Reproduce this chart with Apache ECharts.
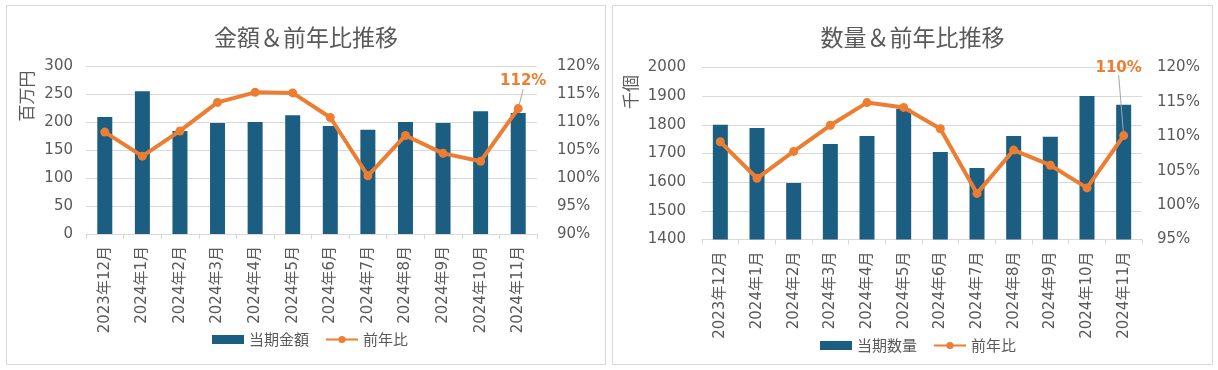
<!DOCTYPE html>
<html>
<head>
<meta charset="utf-8">
<script src="https://cdn.jsdelivr.net/npm/echarts@6/dist/echarts.min.js"></script>
<style>
  html, body { margin: 0; padding: 0; background: #ffffff; }
  .panel { position: absolute; border: 1px solid #d9d9d9; box-sizing: content-box; background: #fff; }
  #p1 { left: 6px; top: 5px; width: 598px; height: 358px; }
  #p2 { left: 612px; top: 5px; width: 599px; height: 358px; }
</style>
</head>
<body>
<div id="p1" class="panel"></div>
<div id="p2" class="panel"></div>
<script>
// ---- data ----
const months = ['2023年12月','2024年1月','2024年2月','2024年3月','2024年4月','2024年5月','2024年6月','2024年7月','2024年8月','2024年9月','2024年10月','2024年11月'];
const amountValues = [209, 255, 184, 198, 200, 212, 193, 186, 200, 198, 219, 216];
const amountYoY = [108.2, 103.9, 108.4, 113.5, 115.3, 115.2, 110.8, 100.4, 107.6, 104.4, 103.0, 112.4];
const qtyValues = [1800, 1789, 1597, 1733, 1761, 1856, 1705, 1649, 1761, 1758, 1901, 1870];
const qtyYoY = [109.2, 103.9, 107.8, 111.6, 114.9, 114.2, 111.1, 101.7, 108.0, 105.8, 102.5, 110.1];

const BAR = '#1B5E82';
const ORANGE = '#ED7D31';
const TXT = '#595959';
const GRID = '#d9d9d9';
const NUMFONT = "'DejaVu Sans', 'Noto Sans CJK JP', sans-serif";
const CJKFONT = "'Noto Sans CJK JP', sans-serif";

function buildOption(cfg) {
  const last = cfg.yoy.length - 1;
  const lineData = cfg.yoy.map((v, i) => i === last
    ? { value: v, label: { show: true } }
    : v);
  return {
    animation: false,
    textStyle: { fontFamily: NUMFONT },
    title: {
      text: cfg.title, left: 'center', top: 20, padding: 0,
      textStyle: { fontFamily: CJKFONT, fontSize: 23, fontWeight: 'normal', color: TXT }
    },
    legend: {
      left: cfg.legendLeft, top: cfg.legendTop, padding: 0, itemGap: 16,
      itemWidth: 32, itemHeight: 9,
      textStyle: { fontFamily: CJKFONT, fontSize: 15, color: TXT },
      data: [{ name: cfg.barName, icon: 'rect' }, { name: '前年比' }]
    },
    graphic: [{
      type: 'text', x: cfg.unitX, y: cfg.unitY, rotation: Math.PI / 2,
      style: { text: cfg.unit, fill: TXT, font: "17px 'Noto Sans CJK JP'", align: 'center', verticalAlign: 'middle' }
    }],
    grid: cfg.grid,
    xAxis: {
      type: 'category', data: months,
      axisLine: { lineStyle: { color: GRID } },
      axisTick: { show: true, length: 5, lineStyle: { color: GRID } },
      axisLabel: { rotate: 90, margin: 12, color: TXT, fontSize: 15, fontFamily: NUMFONT, interval: 0 }
    },
    yAxis: [{
      type: 'value', min: cfg.yMin, max: cfg.yMax, interval: cfg.yInt,
      axisLine: { show: false }, axisTick: { show: false },
      splitLine: { lineStyle: { color: GRID } },
      axisLabel: { color: TXT, fontSize: 15, fontFamily: NUMFONT, margin: cfg.leftMargin, formatter: v => String(v) }
    }, {
      type: 'value', min: cfg.rMin, max: 120, interval: 5,
      axisLine: { show: false }, axisTick: { show: false },
      splitLine: { show: false },
      axisLabel: { color: TXT, fontSize: 15, fontFamily: NUMFONT, margin: cfg.rightMargin, formatter: v => Math.round(v) + '%' }
    }],
    series: [{
      name: cfg.barName, type: 'bar', data: cfg.bars, barWidth: 15,
      itemStyle: { color: BAR }
    }, {
      name: '前年比', type: 'line', yAxisIndex: 1, data: lineData, z: 5,
      symbol: 'circle', symbolSize: 9,
      lineStyle: { color: ORANGE, width: 4 },
      itemStyle: { color: ORANGE },
      label: {
        show: false, position: 'top', distance: 5,
        color: ORANGE, fontWeight: 'bold', fontSize: 15, fontFamily: NUMFONT,
        formatter: p => Math.round(p.value) + '%'
      },
      labelLayout: p => (p.dataIndex === last ? { dx: cfg.lblDx, dy: cfg.lblDy } : {}),
      labelLine: { show: true, lineStyle: { color: '#a6a6a6', width: 1 } }
    }]
  };
}

const c1 = echarts.init(document.getElementById('p1'), null, { renderer: 'canvas' });
c1.setOption(buildOption({
  title: '金額＆前年比推移', barName: '当期金額', unit: '百万円',
  bars: amountValues, yoy: amountYoY,
  yMin: 0, yMax: 300, yInt: 50, rMin: 90,
  grid: { left: 79, right: 68, top: 60, bottom: 130 },
  leftMargin: 13, rightMargin: 20,
  legendLeft: 205, legendTop: 326,
  unitX: 20, unitY: 90,
  lblDx: 5, lblDy: -10
}));

const c2 = echarts.init(document.getElementById('p2'), null, { renderer: 'canvas' });
c2.setOption(buildOption({
  title: '数量＆前年比推移', barName: '当期数量', unit: '千個',
  bars: qtyValues, yoy: qtyYoY,
  yMin: 1400, yMax: 2000, yInt: 100, rMin: 95,
  grid: { left: 89, right: 70, top: 61.5, bottom: 124.5 },
  leftMargin: 16, rightMargin: 15,
  legendLeft: 207, legendTop: 332,
  unitX: 18, unitY: 86,
  lblDx: -5, lblDy: -51
}));
</script>
</body>
</html>
